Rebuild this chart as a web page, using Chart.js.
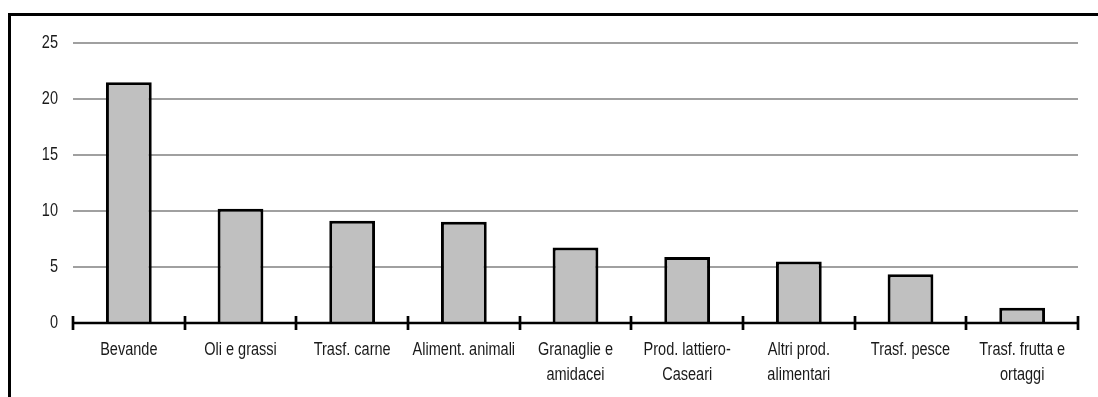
<!DOCTYPE html>
<html>
<head>
<meta charset="utf-8">
<script src="https://cdn.jsdelivr.net/npm/chart.js@4.4.0/dist/chart.umd.min.js"></script>
<style>
  html, body { margin: 0; padding: 0; background: #fff; }
  #wrap { position: relative; width: 1098px; height: 397px; overflow: hidden; }
  #frame { position: absolute; left: 8px; top: 13px; width: 1200px; height: 500px;
           border-left: 3px solid #000; border-top: 3px solid #000; box-sizing: border-box; }
  canvas { position: absolute; left: 0; top: 0; }
</style>
</head>
<body>
<div id="wrap">
  <div id="frame"></div>
  <canvas id="c" width="1098" height="397"></canvas>
</div>
<script>
const categories = [
  "Bevande",
  "Oli e grassi",
  "Trasf. carne",
  "Aliment. animali",
  ["Granaglie e", "amidacei"],
  ["Prod. lattiero-", "Caseari"],
  ["Altri prod.", "alimentari"],
  "Trasf. pesce",
  ["Trasf. frutta e", "ortaggi"]
];
const values = [21.5, 10.2, 9.14, 9.05, 6.73, 5.89, 5.5, 4.35, 1.37];
const yTicks = [0, 5, 10, 15, 20, 25];

const FONT = "'Liberation Sans', Arial, sans-serif";
const NARROW = 0.83;

// Draw the library's own tick labels with a horizontal squeeze (narrow face look)
function condense(scale) {
  if (scale._condensed) return;
  scale._condensed = true;
  scale.drawLabels = function (chartArea) {
    if (this.options.ticks.display === false) return;
    const ctx = this.ctx;
    const items = this.getLabelItems(chartArea);
    for (const item of items) {
      const o = item.options;
      const tx = o.translation ? o.translation[0] : 0;
      const ty = o.translation ? o.translation[1] : 0;
      ctx.save();
      ctx.translate(tx, ty);
      ctx.scale(NARROW, 1);
      const opts = Object.assign({}, o, { translation: undefined, rotation: 0 });
      Chart.helpers.renderText(ctx, item.label, 0, item.textOffset, item.font, opts);
      ctx.restore();
    }
  };
}

const crossTicks = {
  id: 'crossTicks',
  afterDatasetsDraw(chart) {
    const x = chart.scales.x;
    const y = chart.scales.y;
    const ctx = chart.ctx;
    const n = chart.data.labels.length;
    const step = x.getPixelForValue(1) - x.getPixelForValue(0);
    const y0 = y.getPixelForValue(0);
    ctx.save();
    ctx.strokeStyle = '#000';
    ctx.lineWidth = 2.7;
    ctx.beginPath();
    for (let i = 0; i <= n; i++) {
      const px = Math.round(x.getPixelForValue(0) - step / 2 + i * step);
      ctx.moveTo(px, y0 - 7);
      ctx.lineTo(px, y0 + 7);
    }
    ctx.stroke();
    ctx.beginPath();
    ctx.moveTo(x.left, y0);
    ctx.lineTo(x.right, y0);
    ctx.stroke();
    ctx.restore();
  }
};

new Chart(document.getElementById('c'), {
  type: 'bar',
  data: {
    labels: categories,
    datasets: [{
      data: values,
      backgroundColor: '#c0c0c0',
      borderColor: '#000',
      borderWidth: 3,
      borderSkipped: 'bottom',
      categoryPercentage: 1,
      barPercentage: 0.41
    }]
  },
  options: {
    responsive: false,
    animation: false,
    devicePixelRatio: 1,
    layout: { padding: { left: 0, right: 20, top: 43, bottom: 0 } },
    plugins: { legend: { display: false }, tooltip: { enabled: false } },
    scales: {
      x: {
        offset: true,
        grid: { display: false },
        border: { display: false },
        ticks: {
          color: '#1a1a1a',
          font: { family: FONT, size: 17.5, lineHeight: 1.4 },
          padding: 7,
          maxRotation: 0,
          autoSkip: false
        },
        afterFit(s) { s.height = 74; },
        afterUpdate: condense
      },
      y: {
        min: 0,
        max: 25,
        afterBuildTicks(s) { s.ticks = yTicks.map(v => ({ value: v })); },
        grid: { color: '#a0a0a0', lineWidth: 2, drawTicks: false },
        border: { display: false },
        ticks: {
          color: '#1a1a1a',
          font: { family: FONT, size: 17.5 },
          padding: 15
        },
        afterFit(s) { s.width = 73; },
        afterUpdate: condense
      }
    }
  },
  plugins: [crossTicks]
});
</script>
</body>
</html>
